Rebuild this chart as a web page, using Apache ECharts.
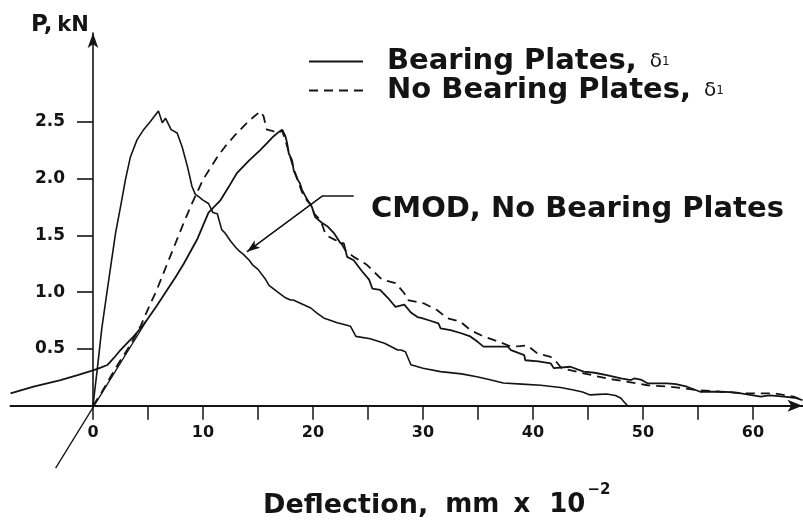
<!DOCTYPE html>
<html>
<head>
<meta charset="utf-8">
<script src="https://cdn.jsdelivr.net/npm/echarts@6/dist/echarts.min.js"></script>
<style>html,body{margin:0;padding:0;background:#fff}#c{width:803px;height:526px}</style>
</head>
<body>
<div id="c"></div>
<script>
// ---- data (deflection in mm x 10^-2, load in kN) ----
const xTicks = [0, 10, 20, 30, 40, 50, 60];
const yTicks = [0.5, 1.0, 1.5, 2.0, 2.5];

const bearingPlates = [[-7.5,0.109],[-5.4,0.167],[-2.95,0.226],[-1.4,0.27],[0.07,0.314],[0.7,0.335],[1.3,0.358],[1.9,0.42],[2.5,0.49],[3.1,0.55],[3.7,0.61],[4.3,0.68],[4.9,0.754],[5.8,0.88],[6.75,1.02],[7.5,1.13],[8.25,1.25],[9.5,1.47],[10.5,1.70],[11.6,1.81],[12.3,1.92],[13.1,2.05],[14.2,2.16],[15.2,2.25],[15.8,2.31],[16.4,2.37],[16.9,2.41],[17.2,2.43],[17.5,2.37],[17.65,2.31],[17.8,2.22],[18.1,2.16],[18.25,2.07],[18.6,1.99],[18.8,1.96],[19.0,1.90],[19.5,1.81],[19.9,1.75],[20.2,1.66],[20.8,1.61],[21.3,1.58],[21.9,1.52],[22.5,1.43],[22.8,1.43],[23.1,1.31],[23.7,1.28],[24.4,1.19],[25.1,1.11],[25.4,1.03],[26.1,1.02],[26.8,0.95],[27.5,0.87],[28.3,0.89],[28.9,0.82],[29.5,0.78],[29.9,0.77],[30.6,0.75],[31.4,0.725],[31.6,0.68],[32.5,0.666],[33.4,0.64],[34.3,0.61],[35.0,0.56],[35.5,0.52],[36.5,0.52],[37.7,0.52],[38.0,0.49],[39.2,0.446],[39.3,0.40],[40.5,0.39],[41.6,0.373],[41.9,0.33],[43.4,0.343],[44.6,0.30],[45.6,0.29],[46.7,0.27],[48.0,0.24],[48.9,0.226],[49.2,0.24],[49.8,0.23],[50.4,0.197],[52.2,0.197],[53.0,0.19],[54.0,0.167],[55.2,0.123],[57.0,0.123],[58.0,0.12],[58.9,0.109],[60.7,0.08],[61.5,0.09],[62.8,0.08],[63.8,0.07],[64.5,0.05]];

const noBearingPlates = [[0,0],[0.8,0.12],[1.6,0.255],[2.3,0.37],[3.1,0.49],[3.7,0.59],[4.3,0.695],[5.0,0.85],[5.8,1.02],[6.75,1.25],[7.5,1.43],[8.25,1.61],[9.0,1.78],[10.0,1.99],[11.3,2.19],[12.0,2.28],[12.8,2.37],[14.0,2.49],[14.7,2.55],[15.2,2.59],[15.5,2.55],[15.8,2.43],[16.3,2.42],[16.7,2.40],[17.2,2.42],[17.6,2.30],[17.9,2.20],[18.2,2.10],[18.6,1.99],[19.0,1.88],[19.5,1.80],[19.9,1.76],[20.1,1.69],[20.7,1.63],[21.1,1.52],[21.4,1.49],[22.0,1.46],[22.5,1.44],[23.0,1.36],[23.7,1.31],[24.9,1.24],[26.0,1.135],[26.3,1.11],[27.5,1.08],[28.3,0.99],[28.6,0.93],[30.1,0.90],[31.3,0.84],[32.2,0.77],[33.4,0.74],[34.3,0.666],[35.5,0.61],[37.0,0.56],[38.0,0.52],[38.8,0.525],[39.5,0.53],[40.4,0.46],[41.6,0.43],[42.0,0.40],[42.6,0.33],[44.6,0.285],[46.7,0.24],[48.6,0.21],[50.4,0.18],[52.5,0.167],[54.9,0.138],[57.0,0.123],[59.5,0.109],[61.9,0.109],[63.7,0.08],[64.5,0.05]];

const cmodNoBearing = [[0,0],[0.4,0.33],[0.8,0.68],[1.3,1.02],[1.6,1.22],[2.05,1.52],[2.5,1.75],[2.95,1.99],[3.4,2.19],[4.0,2.34],[4.6,2.43],[5.2,2.50],[5.6,2.55],[5.95,2.594],[6.1,2.55],[6.3,2.49],[6.6,2.53],[6.9,2.47],[7.1,2.43],[7.65,2.40],[8.1,2.28],[8.6,2.10],[9.0,1.93],[9.3,1.86],[9.6,1.84],[10.0,1.81],[10.5,1.78],[10.9,1.70],[11.3,1.69],[11.7,1.55],[12.0,1.52],[12.5,1.45],[13.0,1.39],[13.2,1.37],[13.7,1.33],[14.2,1.28],[14.5,1.24],[15.0,1.20],[15.7,1.11],[16.0,1.06],[16.8,1.00],[17.5,0.95],[17.95,0.93],[18.2,0.93],[18.9,0.90],[19.8,0.86],[20.3,0.82],[21.0,0.77],[21.3,0.76],[22.2,0.73],[23.0,0.71],[23.4,0.70],[23.9,0.61],[25.2,0.59],[26.5,0.55],[27.7,0.49],[28.0,0.49],[28.4,0.475],[28.9,0.36],[30.0,0.33],[31.6,0.30],[33.5,0.28],[34.9,0.255],[36.0,0.23],[37.3,0.20],[39.0,0.19],[40.7,0.18],[42.5,0.16],[43.7,0.138],[44.5,0.12],[45.2,0.095],[46.0,0.10],[46.7,0.103],[47.5,0.09],[48.0,0.065],[48.4,0.02],[48.6,0.0]];

const initialSlopeLine = [[-3.4,-0.55],[4.9,0.754]];
const cmodLeader = [[23.7,1.846],[20.85,1.846],[14.0,1.356]];

// ---- chart ----
const FONT = 'DejaVu Sans';
const INK = '#141414';
const X0 = 93, PXX = 11;       // px of x=0, px per unit
const Y0 = 405.7, PXY = 113.6; // px of y=0, px per unit
const xMinA = -7.5, xMaxA = 64.5, yMinA = -0.6, yMaxA = 3.28;

const chart = echarts.init(document.getElementById('c'), null, {renderer: 'canvas'});
const lineBase = {type: 'line', showSymbol: false, symbol: 'none', animation: false, xAxisIndex: 0, yAxisIndex: 0, z: 3};

chart.setOption({
  animation: false,
  backgroundColor: '#ffffff',
  title: [
    {left: 26, top: 9, text: '{p|P,} {k|kN}',
      textStyle: {rich: {
        p: {fontFamily: FONT, fontWeight: 'bold', fontSize: 23, color: INK},
        k: {fontFamily: FONT, fontWeight: 'bold', fontSize: 21, color: INK}}}},
    {left: 366, top: 190, text: 'CMOD, No Bearing Plates',
      textStyle: {fontFamily: FONT, fontWeight: 'bold', fontSize: 29, color: INK}},
    {left: 258, top: 478, text: '{a|Deflection,}{b|mm}{c|x}{d|10}{e|−2}',
      textStyle: {rich: {
        a: {fontFamily: FONT, fontSize: 27, color: INK},
        b: {fontFamily: FONT, fontWeight: 'bold', fontSize: 26, color: INK, padding: [0, 0, 0, 17]},
        c: {fontFamily: FONT, fontWeight: 'bold', fontSize: 26, color: INK, padding: [0, 0, 0, 14]},
        d: {fontFamily: FONT, fontSize: 26, color: INK, padding: [0, 0, 0, 19]},
        e: {fontFamily: FONT, fontSize: 15, color: INK, padding: [0, 0, 30, 2]}}}}
  ],
  legend: {
    left: 303, top: 42, orient: 'vertical', itemWidth: 54, itemHeight: 14, itemGap: 0,
    itemStyle: {opacity: 0, borderWidth: 0},
    data: [
      {name: 'Bearing Plates', itemStyle: {opacity: 0}},
      {name: 'No Bearing Plates', itemStyle: {opacity: 0}}
    ],
    formatter: n => '{t|' + n + ',}{d|δ}{s|1}',
    textStyle: {rich: {
      t: {fontFamily: FONT, fontWeight: 'bold', fontSize: 29, color: INK, padding: [0, 0, 0, 19], lineHeight: 30},
      d: {fontFamily: FONT, fontSize: 20, color: INK, padding: [0, 0, 0, 13], lineHeight: 30},
      s: {fontFamily: FONT, fontSize: 12, color: INK, lineHeight: 30}}}
  },
  grid: [
    {left: X0 + xMinA * PXX, width: (xMaxA - xMinA) * PXX, top: Y0 - yMaxA * PXY, height: (yMaxA - yMinA) * PXY},
    {left: X0, width: 60 * PXX, top: Y0 - yMaxA * PXY, height: yMaxA * PXY},
    {left: X0, width: 60 * PXX, top: Y0 - 2.5 * PXY, height: 2.5 * PXY}
  ],
  xAxis: [
    {gridIndex: 0, type: 'value', min: xMinA, max: xMaxA,
      axisLine: {show: true, onZero: true, symbol: ['none', 'arrow'], symbolSize: [9, 15], lineStyle: {color: INK, width: 2}},
      axisTick: {show: false}, axisLabel: {show: false}, splitLine: {show: false}},
    {gridIndex: 1, type: 'value', min: 0, max: 60, interval: 5,
      axisLine: {show: false}, splitLine: {show: false},
      axisTick: {show: true, inside: false, length: 14, lineStyle: {color: INK, width: 1.5}},
      axisLabel: {margin: 19, fontFamily: FONT, fontWeight: 'bold', fontSize: 16, color: INK,
        formatter: v => (xTicks.indexOf(v) >= 0 ? String(v) : '')}},
    {gridIndex: 2, type: 'value', min: 0, max: 60, show: false}
  ],
  yAxis: [
    {gridIndex: 0, type: 'value', min: yMinA, max: yMaxA, show: false},
    {gridIndex: 1, type: 'value', min: 0, max: yMaxA,
      axisLine: {show: true, symbol: ['none', 'arrow'], symbolSize: [8, 15], lineStyle: {color: INK, width: 1.6}},
      axisTick: {show: false}, axisLabel: {show: false}, splitLine: {show: false}},
    {gridIndex: 2, type: 'value', min: 0, max: 2.5, interval: 0.5,
      axisLine: {show: false}, splitLine: {show: false},
      axisTick: {show: true, inside: false, length: 16, lineStyle: {color: INK, width: 1.6}},
      axisLabel: {margin: 28, fontFamily: FONT, fontWeight: 'bold', fontSize: 17, color: INK,
        formatter: v => (yTicks.some(t => Math.abs(t - v) < 1e-6) ? v.toFixed(1) : '')}}
  ],
  series: [
    Object.assign({}, lineBase, {name: 'Bearing Plates', data: bearingPlates,
      lineStyle: {color: INK, width: 1.8, type: 'solid'}, itemStyle: {color: INK}}),
    Object.assign({}, lineBase, {name: 'No Bearing Plates', data: noBearingPlates,
      lineStyle: {color: INK, width: 1.8, type: [9, 6]}, itemStyle: {color: INK}}),
    Object.assign({}, lineBase, {name: 'CMOD, No Bearing Plates', data: cmodNoBearing,
      lineStyle: {color: INK, width: 1.6}, itemStyle: {color: INK}}),
    Object.assign({}, lineBase, {name: 'initial slope', data: initialSlopeLine,
      lineStyle: {color: INK, width: 1.3}, itemStyle: {color: INK}}),
    Object.assign({}, lineBase, {name: 'leader', data: cmodLeader,
      lineStyle: {color: INK, width: 1.3}, itemStyle: {color: INK},
      markLine: {silent: true, symbol: ['none', 'arrow'], symbolSize: [7, 13], label: {show: false},
        lineStyle: {color: INK, width: 1.3, type: 'solid'},
        data: [[{coord: cmodLeader[1]}, {coord: cmodLeader[2]}]]}})
  ]
});
</script>
</body>
</html>
